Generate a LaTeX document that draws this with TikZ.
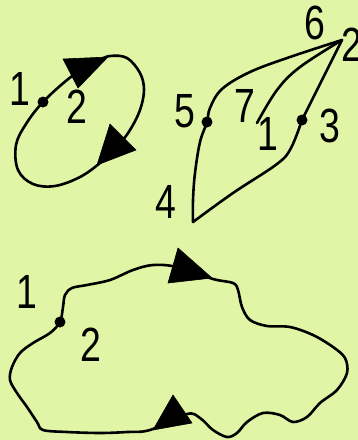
\documentclass[tikz,border=0pt]{standalone}
\usepackage{fontspec}
\newfontfamily\lblfont[FakeStretch=0.78]{Liberation Sans}
\definecolor{bgc}{RGB}{224,245,165}
\begin{document}
\begin{tikzpicture}[x=1pt,y=-1pt,
  curve/.style={line width=2.6pt, line join=round, line cap=round},
  dot/.style={circle, fill, inner sep=0pt, minimum size=11pt},
  lbl/.style={font=\lblfont\fontsize{48}{48}\selectfont, inner sep=0pt},
  head/.style={fill, draw, line width=0.6pt, line join=round}]
\fill[bgc] (0,0) rectangle (358,440);
\useasboundingbox (0,0) rectangle (358,440);
% --- ellipse
\draw[curve] plot[smooth cycle, tension=0.6] coordinates {(110,56) (127,58) (140,73) (144,90) (140,110) (130,130) (117,147) (100,163) (80,177) (55,186) (33,184) (18,170) (16,145) (26,124) (43,102) (67,80) (82,70) (98,61)};
\node[dot] (e1) at (43,102) {};
\fill[head] (63,59) -- (108,57) -- (78,88) -- cycle;
\fill[head] (110,124) -- (136,150) -- (97,165) -- cycle;
\node[lbl] (el1) at (20,89) {1};
\node[lbl] (el2) at (77,107) {2};
% --- leaf
\coordinate (p2) at (342,40);
\coordinate (p4) at (193,222);
\coordinate (p5) at (207,122);
\coordinate (p3) at (302,120);
\coordinate (p7) at (257,123);
\draw[curve] plot[smooth, tension=0.6] coordinates {(342,40) (290,57) (250,72) (222,89) (210,108) (207,122) (200,142) (195,173) (193,200) (193,222)};
\draw[curve] plot[smooth, tension=0.6] coordinates {(193,222) (233,193) (277,164) (291,148) (302,120)};
\draw[curve] (p3) -- (p2);
\draw[curve] plot[smooth, tension=0.6] coordinates {(342,40) (300,67) (277,90) (257,123)};
\node[dot] (d5) at (p5) {};
\node[dot] (d3) at (p3) {};
\node[lbl] (l6) at (315,23) {6};
\node[lbl] (l2) at (352,45) {2};
\node[lbl] (l5) at (185,111) {5};
\node[lbl] (l7) at (245,106) {7};
\node[lbl] (l1) at (268,134) {1};
\node[lbl] (l3) at (330,126) {3};
\node[lbl] (l4) at (166,202) {4};
% --- blob
\draw[curve] plot[smooth cycle, tension=0.55] coordinates {(60,322) (63,307) (65,295) (72,288) (87,285) (110,280) (133,270) (153,265) (177,267) (213,279) (233,283) (238,290) (242,307) (250,320) (267,326) (290,327) (313,335) (333,347) (345,358) (347,373) (337,390) (320,403) (307,417) (293,422) (280,415) (263,413) (247,422) (237,433) (227,437) (213,430) (200,418) (187,414) (150,430) (127,432) (100,433) (67,432) (43,430) (37,422) (27,407) (17,393) (10,380) (12,367) (20,353) (33,343) (50,333)};
\node[dot] (b1) at (60,322) {};
\fill[head] (178,248) -- (212,278) -- (168,283) -- cycle;
\fill[head] (173,395) -- (192,423) -- (153,430) -- cycle;
\node[lbl] (bl1) at (27,292) {1};
\node[lbl] (bl2) at (91,345) {2};
\end{tikzpicture}
\end{document}
